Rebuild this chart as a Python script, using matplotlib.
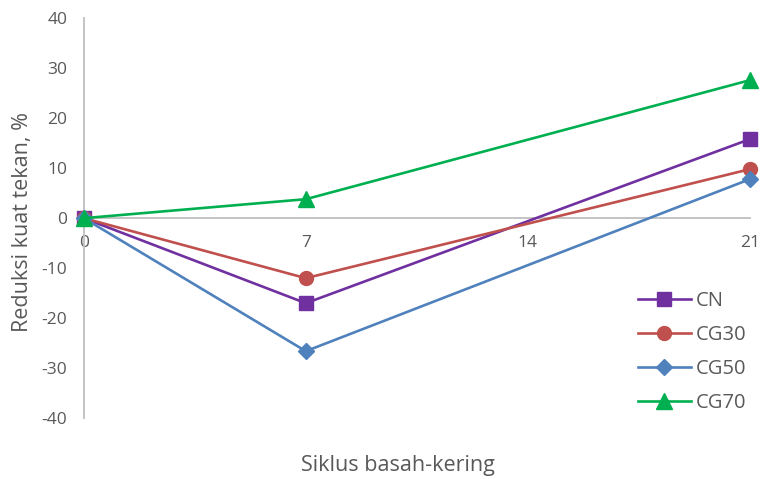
import matplotlib
matplotlib.use("Agg")
import matplotlib.pyplot as plt

plt.rcParams['font.family'] = ['Open Sans', 'DejaVu Sans']

# siklus basah-kering
cycles = [0, 7, 21]
series_names = ["CN", "CG30", "CG50", "CG70"]
cn = [0, -17.0, 15.8]
cg30 = [0, -12.0, 9.8]
cg50 = [0, -26.6, 7.8]
cg70 = [0, 3.8, 27.6]
x_ticks = [0, 7, 14, 21]
y_ticks = [-40, -30, -20, -10, 0, 10, 20, 30, 40]

styles = [
    ("#7030A0", "s", 10),
    ("#C0504D", "o", 10),
    ("#4F81BD", "D", 8.5),
    ("#00B050", "^", 11.5),
]

fig = plt.figure(figsize=(7.62, 4.79), dpi=100)
ax = fig.add_axes([0.110, 0.127, 0.874, 0.835])

for name, vals, (col, mk, ms) in zip(series_names, [cn, cg30, cg50, cg70], styles):
    ax.plot(cycles, vals, color=col, lw=1.9, marker=mk, markersize=ms,
            markeredgecolor=col, markerfacecolor=col, label=name, clip_on=False, zorder=3)

ax.set_xlim(0, 21)
ax.set_ylim(-40, 40)
ax.set_yticks(y_ticks)
ax.set_yticklabels([str(v) for v in y_ticks])
ax.set_xticks(x_ticks)

for s in ["top", "right"]:
    ax.spines[s].set_visible(False)
ax.spines["left"].set_color("#BFBFBF")
ax.spines["left"].set_linewidth(1.3)
ax.spines["bottom"].set_position(("data", 0))
ax.spines["bottom"].set_color("#BFBFBF")
ax.spines["bottom"].set_linewidth(1.3)

ax.tick_params(axis="y", length=0, pad=12, labelsize=12.5, labelcolor="#595959")
ax.tick_params(axis="x", length=0, pad=12, labelsize=12.5, labelcolor="#595959")

ax.set_ylabel("Reduksi kuat tekan, %", fontsize=15.5, color="#595959")
ax.yaxis.set_label_coords(-0.077, 0.49)
fig.text(0.522, 0.016, "Siklus basah-kering", ha="center", fontsize=15.5, color="#595959")

leg = ax.legend(loc="lower right", bbox_to_anchor=(1.022, -0.032), frameon=False,
                fontsize=14.5, labelcolor="#595959", handlelength=2.6,
                labelspacing=0.7, handletextpad=0.25)

fig.savefig("out.png", dpi=100)
